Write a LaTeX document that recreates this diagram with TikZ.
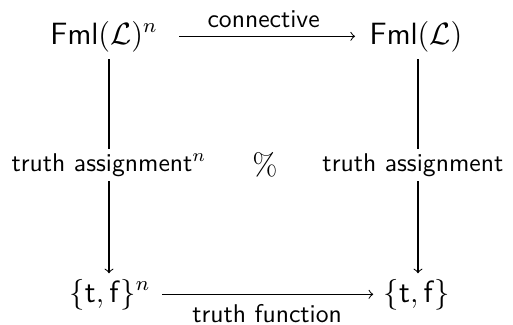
\documentclass[tikz,border=0pt]{standalone}
\begin{document}
\begin{tikzpicture}[x=0.39pt,y=-0.39pt,
  obj/.style={inner sep=0pt,anchor=base,font=\large},
  lab/.style={inner sep=0pt,font=\sffamily},
  vlab/.style={inner xsep=0pt,inner ysep=1.6pt,fill=white,font=\sffamily},
  arr/.style={->,line width=0.4pt}]
\useasboundingbox (0,0) rectangle (513,324);
\node[obj] (A) at (104,44) {$\mathsf{Fml}(\mathcal{L})^n$};
\node[obj] (B) at (416,44) {$\mathsf{Fml}(\mathcal{L})$};
\node[obj] (C) at (110,302) {$\{\mathsf{t},\mathsf{f}\}^n$};
\node[obj] (D) at (417,302) {$\{\mathsf{t},\mathsf{f}\}$};
\coordinate (X1) at (109,165);
\coordinate (X2) at (418,165);
\node[inner sep=0pt,font=\large] (P) at (265,165) {\%};
\draw[arr,shorten <=8.2pt,shorten >=5.5pt] ([yshift=3pt]A.base east) -- ([yshift=3pt]B.base west)
  node[lab,midway,above=3.2pt] (c1) {connective};
\draw[arr,shorten <=4.3pt,shorten >=3.9pt] ([yshift=3pt]C.base east) -- ([yshift=3pt]D.base west)
  node[lab,midway,below=3.8pt] (c2) {truth function};
\draw[arr,shorten <=2.8pt,shorten >=2pt] (A.south -| X1) -- (C.north -| X1);
\draw[arr,shorten <=2.8pt,shorten >=2pt] (B.south -| X2) -- (D.north -| X2);
\node[vlab] (L1) at (X1) {truth assignment$^n$};
\node[vlab] (L2) at ([xshift=-2pt]X2) {truth assignment};
\end{tikzpicture}
\end{document}
